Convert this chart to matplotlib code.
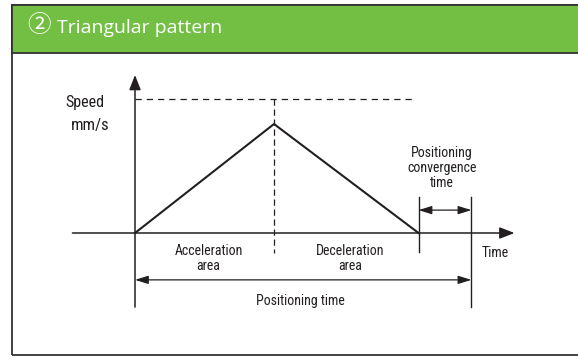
"""Triangular speed pattern diagram (positioning time breakdown)."""

import matplotlib.pyplot as plt
from matplotlib.patches import Rectangle

# --- diagram values (time and speed in relative units) ---
TIME_POINTS = [0.0, 1.0, 2.04, 2.42]     # start, peak, decel end, settle end
SPEED_POINTS = [0.0, 1.0, 0.0]           # speed at start, peak, decel end
MAX_SPEED = 1.23                          # dashed reference level

TITLE = 'Triangular pattern'
CIRCLED = '\u2461'
Y_LABEL = ['Speed', 'mm/s']
X_LABEL = 'Time'
AREA_LABELS = ['Acceleration\narea', 'Deceleration\narea']
CONV_LABEL = 'Positioning\nconvergence\ntime'
POS_LABEL = 'Positioning time'

W, H = 578, 356
GREEN = '#72bf44'
INK = '#231f20'
NARROW = ['Liberation Sans Narrow', 'DejaVu Sans Condensed',
          'Roboto Condensed', 'DejaVu Sans']

fig = plt.figure(figsize=(W / 100, H / 100), dpi=100)


def fx(px):
    return px / W


def fy(py):
    return 1 - py / H


# frame and green header
fig.add_artist(Rectangle((fx(12.5), fy(355)), fx(600), fy(5) - fy(355),
                         transform=fig.transFigure, fill=False,
                         ec='#333333', lw=1.3))
fig.add_artist(Rectangle((fx(12.5), fy(53)), fx(600), fy(5) - fy(53),
                         transform=fig.transFigure, fc=GREEN,
                         ec='#333333', lw=1.3))
fig.text(fx(39), fy(26), CIRCLED, color='white', fontsize=17,
         family=['Noto Sans CJK SC', 'DejaVu Sans'], ha='center',
         va='center')
fig.text(fx(57), fy(33), TITLE, color='white', fontsize=14,
         family=['Open Sans', 'DejaVu Sans'], ha='left', va='baseline')

# diagram axes: x=0 at px 135, 1 unit = 139 px; y=0 at px 233, 1 unit = 109 px
ax = fig.add_axes([0, 0, 1, 1])
ax.set_xlim(-135 / 139, (W - 135) / 139)
ax.set_ylim(-(H - 233) / 109, 233 / 109)
ax.axis('off')

t0, t_peak, t_dec, t_end = TIME_POINTS

arrow_axis = dict(arrowstyle='-|>,head_length=0.9,head_width=0.35',
                  color=INK, lw=1.1, shrinkA=0, shrinkB=0)
arrow_dim = dict(arrowstyle='<|-|>,head_length=0.8,head_width=0.25',
                 color=INK, lw=0.9, shrinkA=0, shrinkB=0)

# axes arrows
ax.annotate('', xy=(2.73, 0), xytext=(-0.45, 0), arrowprops=arrow_axis)
ax.annotate('', xy=(0, 1.45), xytext=(0, -0.68), arrowprops=arrow_axis)

# speed profile
ax.plot([t0, t_peak, t_dec], SPEED_POINTS, color=INK, lw=1.5,
        solid_joinstyle='miter')

# dashed guides
ax.plot([t0, 2.0], [MAX_SPEED, MAX_SPEED], color=INK, lw=0.9,
        dashes=(5, 4))
ax.plot([t_peak, t_peak], [MAX_SPEED, -0.18], color=INK, lw=0.9,
        dashes=(5, 3))

# boundary lines
ax.plot([t_dec, t_dec], [0.33, -0.17], color=INK, lw=1.0)
ax.plot([t_end, t_end], [0.33, -0.68], color=INK, lw=1.0)

# dimension arrows
ax.annotate('', xy=(t_end, 0.21), xytext=(t_dec, 0.21), arrowprops=arrow_dim)
ax.annotate('', xy=(t_end, -0.43), xytext=(t0, -0.43), arrowprops=arrow_dim)

# labels
ax.text(-0.50, 1.20, Y_LABEL[0], fontsize=11.5, family=NARROW,
        ha='left', va='center', color=INK)
ax.text(-0.46, 0.99, Y_LABEL[1], fontsize=12, family=NARROW,
        ha='left', va='center', color=INK)
ax.text(2.59, -0.18, X_LABEL, fontsize=10, family=NARROW,
        ha='center', va='center', color=INK)
ax.text(0.53, -0.23, AREA_LABELS[0], fontsize=10, family=NARROW,
        ha='center', va='center', color=INK, linespacing=1.1)
ax.text(1.55, -0.23, AREA_LABELS[1], fontsize=10, family=NARROW,
        ha='center', va='center', color=INK, linespacing=1.1)
ax.text(2.21, 0.60, CONV_LABEL, fontsize=10, family=NARROW,
        ha='center', va='center', color=INK, linespacing=1.1)
ax.text(1.19, -0.62, POS_LABEL, fontsize=10, family=NARROW,
        ha='center', va='center', color=INK)

fig.savefig('out.png', dpi=100)
